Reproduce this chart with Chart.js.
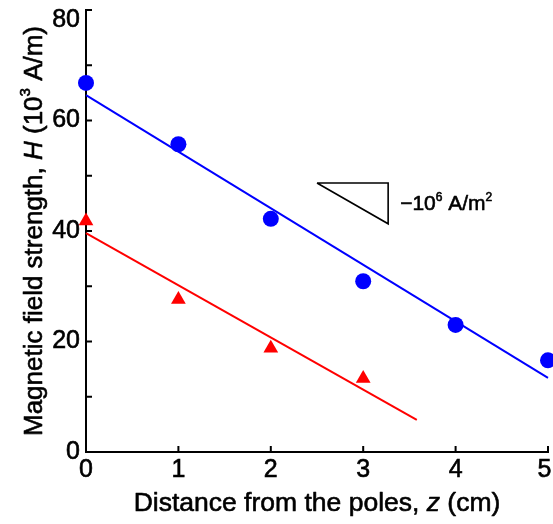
<!DOCTYPE html>
<html>
<head>
<meta charset="utf-8">
<script src="https://cdn.jsdelivr.net/npm/chart.js@4"></script>
<style>
  html, body { margin: 0; padding: 0; background: #fff; }
  #wrap { width: 553px; height: 524px; position: relative; }
</style>
</head>
<body>
<div id="wrap"><canvas id="c"></canvas></div>
<script>
const FONT = '"Liberation Sans", Arial, Helvetica, sans-serif';
const TEXT_STROKE = 0.6;

// Field strength H (10^3 A/m) against distance from the poles z (cm)
const distanceUpper = [0, 1, 2, 3, 4, 5];
const fieldUpper = [66.8, 55.7, 42.2, 30.9, 23.0, 16.6];
const distanceLower = [0, 1, 2, 3];
const fieldLower = [41.8, 27.6, 18.8, 13.3];

// Straight-line fits, given by their end points
const fitUpperX = [0, 5];
const fitUpperY = [64.6, 13.4];
const fitLowerX = [0, 3.58];
const fitLowerY = [39.6, 5.8];

// Slope marker (right triangle) in data coordinates
const slopeX = [2.5, 3.27, 3.27, 2.5];
const slopeY = [48.7, 48.7, 41.3, 48.7];

// Axis ticks
const xTicks = [0, 1, 2, 3, 4, 5];
const yTicks = [0, 20, 40, 60, 80];
const yMinorTicks = [10, 30, 50, 70];

// Text pieces (rich text: italic / superscript)
const xTitle = [{ t: 'Distance from the poles, ' }, { t: 'z', italic: true }, { t: ' (cm)' }];
const yTitle = [{ t: 'Magnetic field strength, ' }, { t: 'H', italic: true }, { t: ' (10' }, { t: '3', sup: true }, { t: ' A/m)' }];
const slopeLabel = [{ t: '\u221210' }, { t: '6', sup: true }, { t: ' A/m' }, { t: '2', sup: true }];

const pts = (xs, ys) => xs.map((x, i) => ({ x, y: ys[i] }));

function drawRich(ctx, parts, x, y, size, align) {
  const fontFor = p => `${p.italic ? 'italic ' : ''}${p.sup ? Math.round(size * 0.58) : size}px ${FONT}`;
  let w = 0;
  const widths = parts.map(p => { ctx.font = fontFor(p); const m = ctx.measureText(p.t).width; w += m; return m; });
  let cx = align === 'center' ? x - w / 2 : x;
  ctx.textAlign = 'left';
  ctx.textBaseline = 'alphabetic';
  ctx.fillStyle = '#000';
  ctx.strokeStyle = '#000';
  ctx.lineWidth = TEXT_STROKE;
  ctx.lineJoin = 'round';
  parts.forEach((p, i) => {
    ctx.font = fontFor(p);
    const ty = p.sup ? y - size * 0.45 : y;
    ctx.fillText(p.t, cx, ty);
    ctx.strokeText(p.t, cx, ty);
    cx += widths[i];
  });
}

const decorations = {
  id: 'decorations',
  beforeDatasetsDraw(chart) {
    const { ctx, chartArea, scales } = chart;
    const len = 6;
    ctx.save();
    ctx.strokeStyle = '#000';
    ctx.lineWidth = 2;
    ctx.beginPath();
    yTicks.concat(yMinorTicks).forEach(v => {
      const py = scales.y.getPixelForValue(v);
      ctx.moveTo(chartArea.left, py);
      ctx.lineTo(chartArea.left + len, py);
    });
    xTicks.forEach(v => {
      const px = scales.x.getPixelForValue(v);
      ctx.moveTo(px, chartArea.bottom);
      ctx.lineTo(px, chartArea.bottom - len);
    });
    ctx.stroke();
    ctx.restore();
  },
  afterDraw(chart) {
    const { ctx, chartArea, scales } = chart;
    ctx.save();
    // x-axis title
    drawRich(ctx, xTitle, (chartArea.left + chartArea.right) / 2, 511, 26.5, 'center');
    // y-axis title, rotated
    ctx.save();
    ctx.translate(42, (chartArea.top + chartArea.bottom) / 2);
    ctx.rotate(-Math.PI / 2);
    drawRich(ctx, yTitle, 0, 0, 26, 'center');
    ctx.restore();
    // slope marker label
    const lx = scales.x.getPixelForValue(slopeX[1]) + 12;
    const ly = scales.y.getPixelForValue((slopeY[1] + slopeY[2]) / 2) + 7;
    drawRich(ctx, slopeLabel, lx, ly, 21, 'left');
    ctx.restore();
  }
};

const noEdgePadding = s => {
  s.paddingTop = 0; s.paddingBottom = 0; s.paddingLeft = 0; s.paddingRight = 0;
};

new Chart(document.getElementById('c'), {
  type: 'scatter',
  data: {
    datasets: [
      {
        data: pts(distanceUpper, fieldUpper),
        pointStyle: 'circle', pointRadius: 8,
        backgroundColor: '#0000ff', borderColor: '#0000ff', borderWidth: 0,
        showLine: false, clip: false
      },
      {
        data: pts(distanceLower, fieldLower),
        pointStyle: 'triangle', pointRadius: 8.5,
        backgroundColor: '#ff0000', borderColor: '#ff0000', borderWidth: 0,
        showLine: false, clip: false
      },
      {
        data: pts(fitUpperX, fitUpperY),
        showLine: true, borderColor: '#0000ff', borderWidth: 2,
        pointRadius: 0, clip: false
      },
      {
        data: pts(fitLowerX, fitLowerY),
        showLine: true, borderColor: '#ff0000', borderWidth: 2,
        pointRadius: 0, clip: false
      },
      {
        data: pts(slopeX, slopeY),
        showLine: true, borderColor: '#000', borderWidth: 1.6,
        borderJoinStyle: 'miter', pointRadius: 0, clip: false
      }
    ]
  },
  options: {
    responsive: true,
    maintainAspectRatio: false,
    animation: false,
    events: [],
    layout: { autoPadding: false, padding: { top: 10, right: 5, left: 0, bottom: 0 } },
    plugins: { legend: { display: false }, tooltip: { enabled: false } },
    scales: {
      x: {
        type: 'linear', min: 0, max: 5,
        afterFit: s => { s.height = 72; noEdgePadding(s); },
        afterBuildTicks: s => { s.ticks = xTicks.map(v => ({ value: v })); },
        grid: { display: false, drawTicks: false, tickLength: 0 },
        border: { display: true, color: '#000', width: 2 },
        ticks: {
          padding: 3, color: '#000', maxRotation: 0, autoSkip: false,
          textStrokeColor: '#000', textStrokeWidth: TEXT_STROKE,
          font: { family: FONT, size: 25 },
          // last label nudged inward so it stays on the canvas
          callback: v => (v === 5 ? String(v) + ' ' : String(v))
        }
      },
      y: {
        type: 'linear', min: 0, max: 80,
        afterFit: s => { s.width = 86; noEdgePadding(s); },
        afterBuildTicks: s => { s.ticks = yTicks.map(v => ({ value: v })); },
        grid: { display: false, drawTicks: false, tickLength: 0 },
        border: { display: true, color: '#000', width: 2 },
        ticks: {
          padding: 6, color: '#000', autoSkip: false,
          textStrokeColor: '#000', textStrokeWidth: TEXT_STROKE,
          font: { family: FONT, size: 25, lineHeight: '20px' },
          // top label sits just below the axis end
          callback: v => (v === 80 ? ['', String(v)] : String(v))
        }
      }
    }
  },
  plugins: [decorations]
});
</script>
</body>
</html>
